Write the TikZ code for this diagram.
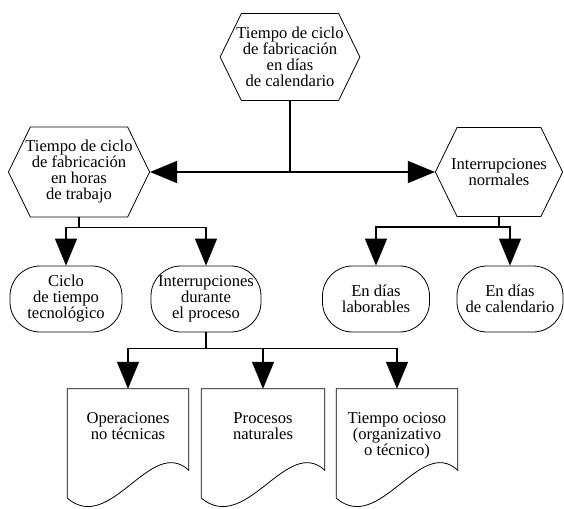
\documentclass[tikz,border=0pt]{standalone}
\usepackage{fontspec}
\setmainfont{Liberation Serif}
\usetikzlibrary{shapes.symbols,arrows.meta}
\tikzset{
  hexbox/.style={draw,line width=0.8pt,signal,signal to=west and east,signal pointer angle=128,align=center,inner ysep=0pt},
  ovalbox/.style={draw,line width=0.8pt,rounded corners=30pt,minimum height=66pt,align=center,inner sep=1pt},
  docbox/.style={minimum width=121pt,minimum height=119pt,inner sep=0pt},
  doctext/.style={align=center,anchor=north,yshift=-20pt},
  conn/.style={line width=1.3pt,-{Triangle[width=22pt,length=27pt]}},
  wire/.style={line width=1.3pt}
}

\begin{document}
\begin{tikzpicture}[x=1pt,y=-1pt,font=\fontsize{16.6}{16}\selectfont]
\useasboundingbox (0,0) rectangle (564,508);
\node[hexbox,inner xsep=-5pt,minimum height=87pt] (dias) at (290,57) {Tiempo de ciclo\\de fabricación\\en días\\de calendario};
\node[hexbox,inner xsep=-5pt,minimum height=90pt] (horas) at (79,172) {Tiempo de ciclo\\de fabricación\\en horas\\de trabajo};
\node[hexbox,inner xsep=-6pt,minimum height=89pt] (normal) at (499,172) {Interrupciones\\normales};
\node[ovalbox,minimum width=112pt] (ciclo) at (66,299) {Ciclo\\de tiempo\\tecnológico};
\node[ovalbox,minimum width=110pt] (proceso) at (206,299) {Interrupciones\\durante\\el proceso};
\node[ovalbox,minimum width=107pt] (labor) at (376,299) {En días\\laborables};
\node[ovalbox,minimum width=106pt] (calend) at (510,299) {En días\\de calendario};
\node[docbox,label={[doctext]north:{Operaciones\\no técnicas}}] (oper) at (128,448.5) {};
\node[docbox,minimum width=123pt,label={[doctext]north:{Procesos\\naturales}}] (natur) at (263,448.5) {};
\node[docbox,label={[doctext]north:{Tiempo ocioso\\(organizativo\\o técnico)}}] (ocio) at (397,448.5) {};
\foreach \d in {oper,natur,ocio}
  \draw[line width=0.8pt] ([yshift=10pt]\d.south west) -- (\d.north west) -- (\d.north east)
    -- ([yshift=38pt]\d.south east)
    .. controls ([xshift=-38pt,yshift=73pt]\d.south east) and ([xshift=-78pt,yshift=-27pt]\d.south east)
    .. ([yshift=10pt]\d.south west);
\draw[conn] (dias.south) |- (horas.east);
\draw[conn] (dias.south) |- (normal.west);
\draw[wire] (horas.south) -- ++(0,10) coordinate (hb);
\draw[conn] (hb) -| (ciclo.north);
\draw[conn] (hb) -| (proceso.north);
\draw[wire] (normal.south) -- ++(0,10) coordinate (nb);
\draw[conn] (nb) -| (labor.north);
\draw[conn] (nb) -| (calend.north);
\draw[wire] (proceso.south) -- ++(0,16) coordinate (pb);
\draw[conn] (pb) -| (oper.north);
\draw[conn] (pb) -| (natur.north);
\draw[conn] (pb) -| (ocio.north);
\end{tikzpicture}
\end{document}
